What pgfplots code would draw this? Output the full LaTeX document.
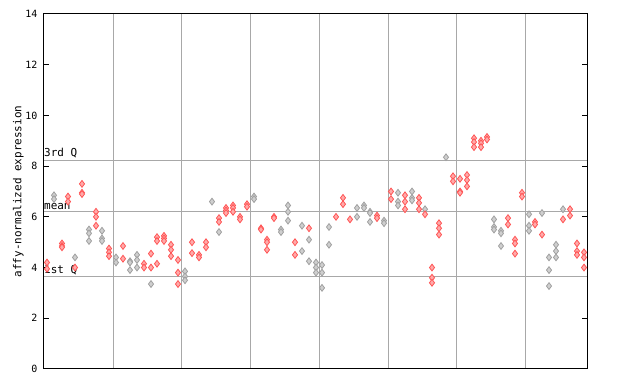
\documentclass[border=0pt]{standalone}
\usepackage{pgfplots}
\pgfplotsset{compat=1.18}
\usepackage{fontspec}
\setmainfont{DejaVu Sans Mono}
\setmonofont{DejaVu Sans Mono}
\definecolor{redpt}{HTML}{FF5555}
\definecolor{greypt}{HTML}{A0A0A0}
\definecolor{gridc}{HTML}{A8A8A8}
\begin{document}
\begin{tikzpicture}[x=1bp,y=1bp]
\begin{axis}[
  scale only axis,
  width=543bp, height=355bp,
  xmin=44, xmax=587, ymin=0, ymax=14,
  axis line style={black, line width=1bp},
  xtick={113,181,250,319,388,456,525},
  xticklabels={},
  xmajorgrids,
  major x tick style={draw=none},
  grid style={gridc, line width=1bp},
  ytick={0,2,...,14},
  ytick pos=both,
  yticklabel pos=left,
  tick align=inside,
  major tick length=5bp,
  y tick style={black, line width=1bp},
  /pgf/number format/assume math mode=true,
  ticklabel style={font=\fontsize{10}{11}\selectfont},
  yticklabel style={xshift=-3bp},
  ylabel={affy-normalized expression},
  ylabel style={font=\fontsize{11}{12}\selectfont, yshift=-5bp},
  clip=false,
]
\draw[gridc, line width=1bp] (axis cs:44,8.23) -- (axis cs:587,8.23);
\draw[gridc, line width=1bp] (axis cs:44,6.22) -- (axis cs:587,6.22);
\draw[gridc, line width=1bp] (axis cs:44,3.63) -- (axis cs:587,3.63);
\node[anchor=south west, inner sep=0pt, font=\fontsize{11}{12}\selectfont] at (axis cs:44,8.30) {3rd Q};
\node[anchor=south west, inner sep=0pt, font=\fontsize{11}{12}\selectfont] at (axis cs:44,6.29) {mean};
\node[anchor=south west, inner sep=0pt, font=\fontsize{11}{12}\selectfont] at (axis cs:44,3.70) {1st Q};
\addplot[only marks, mark=diamond*, mark size=3.4bp, mark options={draw=greypt, fill=greypt!50, line width=0.8bp}] coordinates {
(54,6.85) (54,6.7)
(75,4.4)
(89,5.5) (89,5.35) (89,5.05)
(102,5.45) (102,5.15) (102,5.05)
(116,4.4) (116,4.2)
(130,4.25) (130,4.2) (130,3.9)
(137,4.5) (137,4.3) (137,4.0)
(151,3.35)
(185,3.85) (185,3.65) (185,3.5)
(212,6.6)
(219,5.4)
(254,6.8) (254,6.7)
(281,5.5) (281,5.4)
(288,6.45) (288,6.2) (288,5.85)
(302,5.65) (302,4.65)
(309,5.1) (309,4.25)
(316,4.2) (316,4.0) (316,3.8)
(322,4.1) (322,3.8) (322,3.2)
(329,5.6) (329,4.9)
(357,6.35) (357,6.0)
(364,6.45) (364,6.35)
(370,6.2) (370,6.15) (370,5.8)
(384,5.85) (384,5.75)
(398,6.95) (398,6.6) (398,6.45)
(412,7.0) (412,6.75) (412,6.65)
(425,6.3)
(446,8.35)
(494,5.9) (494,5.6) (494,5.5)
(501,5.45) (501,5.35) (501,4.85)
(529,6.1) (529,5.65) (529,5.45)
(542,6.15)
(549,4.4) (549,3.9) (549,3.27)
(556,4.9) (556,4.65) (556,4.4)
(563,6.3)
};
\addplot[only marks, mark=diamond*, mark size=3.4bp, mark options={draw=redpt, fill=redpt!50, line width=0.8bp}] coordinates {
(47,4.2) (47,3.95)
(62,4.95) (62,4.85) (62,4.8)
(68,6.8) (68,6.6)
(75,4.0)
(82,7.3) (82,6.95) (82,6.9)
(96,6.2) (96,6.0) (96,5.65)
(109,4.75) (109,4.6) (109,4.45)
(123,4.85) (123,4.35)
(144,4.15) (144,4.0)
(151,4.55) (151,4.0)
(157,5.2) (157,5.05) (157,4.15)
(164,5.25) (164,5.15) (164,5.05)
(171,4.9) (171,4.7) (171,4.45)
(178,4.3) (178,3.8) (178,3.35)
(192,5.0) (192,4.57)
(199,4.5) (199,4.4)
(206,5.0) (206,4.8)
(219,5.95) (219,5.8)
(226,6.35) (226,6.25) (226,6.15)
(233,6.45) (233,6.35) (233,6.2)
(240,6.0) (240,5.9)
(247,6.5) (247,6.4)
(261,5.55) (261,5.5)
(267,5.1) (267,5.0) (267,4.7)
(274,6.0) (274,5.95)
(295,5.0) (295,4.5)
(309,5.55)
(336,6.0)
(343,6.75) (343,6.5)
(350,5.9)
(377,6.05) (377,5.95)
(391,7.0) (391,6.7)
(405,6.85) (405,6.6) (405,6.3)
(419,6.75) (419,6.55) (419,6.3)
(425,6.1)
(432,4.0) (432,3.6) (432,3.4)
(439,5.75) (439,5.55) (439,5.3)
(453,7.6) (453,7.4)
(460,7.5) (460,7.0) (460,6.95)
(467,7.65) (467,7.45) (467,7.2)
(474,9.1) (474,8.95) (474,8.75)
(481,9.0) (481,8.9) (481,8.75)
(487,9.15) (487,9.05)
(508,5.95) (508,5.7)
(515,5.1) (515,4.95) (515,4.55)
(522,6.95) (522,6.8)
(535,5.8) (535,5.7)
(542,5.3)
(563,5.9)
(570,6.3) (570,6.05)
(577,4.95) (577,4.65) (577,4.5)
(584,4.6) (584,4.4) (584,4.0)
};
\coordinate (ll) at (axis cs:0,-0.5915);
\coordinate (ur) at (axis cs:640,14.552);
\end{axis}
\pgfresetboundingbox
\path[use as bounding box] (ll) rectangle (ur);
\end{tikzpicture}
\end{document}
